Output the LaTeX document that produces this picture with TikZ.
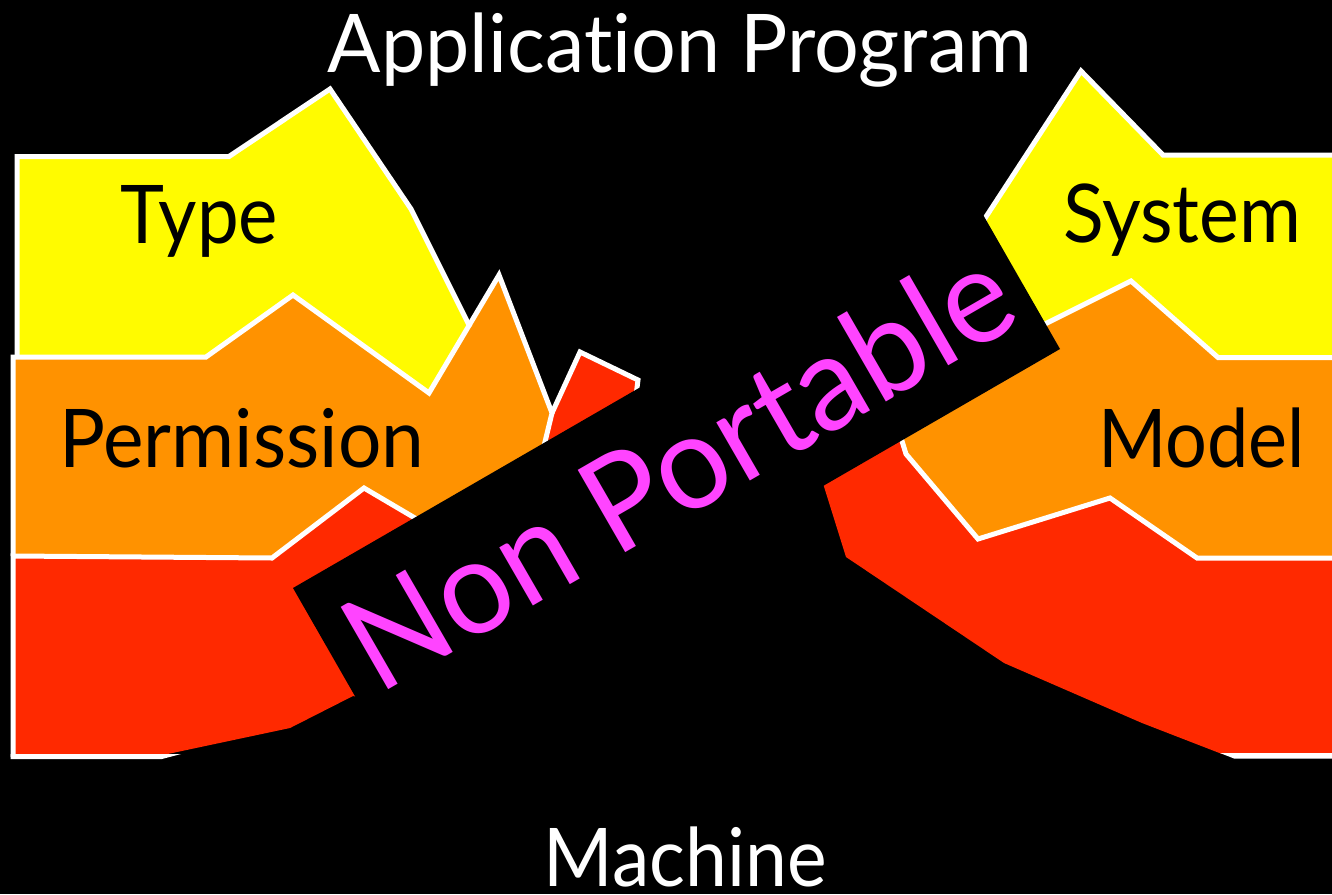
\documentclass[tikz,border=0pt]{standalone}
\usepackage{fontspec}
\setmainfont{Lato}[Ligatures={NoCommon,NoContextual}]
\usepackage{graphicx}

\definecolor{layyel}{HTML}{FFFB00}
\definecolor{layorg}{HTML}{FF9200}
\definecolor{layred}{HTML}{FF2900}
\definecolor{npink}{HTML}{FF44FF}

% stretch a text to a given width, keeping its natural height
\newcommand\fitw[2]{\resizebox{#1}{\height}{#2}}

\begin{document}
\begin{tikzpicture}[x=0.5pt,y=-0.5pt]
\tikzset{
  rim/.style={draw=white, line width=2.5pt, line join=miter, line cap=butt},
  tag/.style={inner sep=0pt, anchor=base, text=black,
              font=\fontsize{40.5pt}{40.5pt}\selectfont},
  heading/.style={tag, text=white},
}

% background
\fill[black] (0,0) rectangle (1332,894);
\useasboundingbox (0,0) rectangle (1332,894);

% ---------- left stack ----------
\fill[layyel] (16,156) -- (229,156) -- (330,89) -- (411,209) -- (470,328)
  -- (490,380) -- (490,470) -- (16,470) -- cycle;
\fill[layorg] (13,357) -- (206,357) -- (293,295) -- (429,393) -- (499,275)
  -- (552,413) -- (543,446) -- (560,470) -- (400,560) -- (13,560) -- cycle;
\fill[layred] (13,556) -- (272,558) -- (364,488) -- (414,517) -- (470,520)
  -- (544,445) -- (552,413) -- (580,352) -- (638,380) -- (636,395)
  -- (700,400) -- (600,560) -- (420,710) -- (353,696) -- (290,728)
  -- (163,755) -- (13,755) -- cycle;

\draw[rim] (17,357) -- (17,156.5) -- (229,156.5) -- (330,89) -- (411,209) -- (470,327);
\draw[rim] (13,556) -- (13,357) -- (206,357) -- (293,295) -- (429,393)
  -- (499,275) -- (552,413) -- (544,446);
\draw[rim] (13,757) -- (13,556) -- (272,558) -- (364,488) -- (420,521);
\draw[rim] (552,413) -- (580,352) -- (638,380) -- (636,396);
\fill[white] (10.5,754) -- (181,754) -- (162,759) -- (10.5,759) -- cycle;

% ---------- right stack ----------
\fill[layyel] (1081,71) -- (1163,155) -- (1332,155) -- (1332,380) -- (1100,380)
  -- (990,300) -- (975,232) -- cycle;
\fill[layred] (821,477) -- (846,557) -- (1004,663) -- (1142,723) -- (1222,754)
  -- (1332,754) -- (1332,540) -- (1100,480) -- (900,420) -- cycle;
\fill[layorg] (1035,329) -- (1131,281) -- (1218,357) -- (1332,357) -- (1332,558)
  -- (1197,558) -- (1110,498) -- (978,539) -- (906,454) -- (898,428)
  -- (960,380) -- cycle;

\draw[rim] (978,229) -- (1081,71) -- (1163,155) -- (1334,155);
\draw[rim] (1035,329) -- (1131,281) -- (1218,357.5) -- (1334,357.5);
\draw[rim] (898,428) -- (906,454) -- (978,539) -- (1110,498) -- (1197,558) -- (1334,558);
\fill[white] (1220,753) -- (1334,753) -- (1334,758.5) -- (1234,758.5) -- cycle;

% ---------- band across the middle ----------
\fill[black] (293,588) -- (972,195.5) -- (1060,349) -- (381,741.5) -- cycle;
\node[inner sep=0pt, anchor=base, rotate=30, text=npink,
      font=\fontsize{66.3pt}{66.3pt}\selectfont] (np) at (702,508.5)
  {\fitw{373pt}{Non Portable}};

% ---------- labels ----------
\node[tag] (ty) at (199.5,243) {\fitw{78.5pt}{Type}};
\node[tag] (pe) at (241.7,467) {\fitw{182.5pt}{Permission}};
\node[tag] (sy) at (1182,242) {\fitw{119pt}{System}};
\node[tag] (mo) at (1201.5,467) {\fitw{103.5pt}{Model}};

\node[heading] (ap) at (680,72) {\fitw{352pt}{Application Program}};
\node[heading] (ma) at (685,886) {\fitw{141.5pt}{Machine}};
\end{tikzpicture}
\end{document}
